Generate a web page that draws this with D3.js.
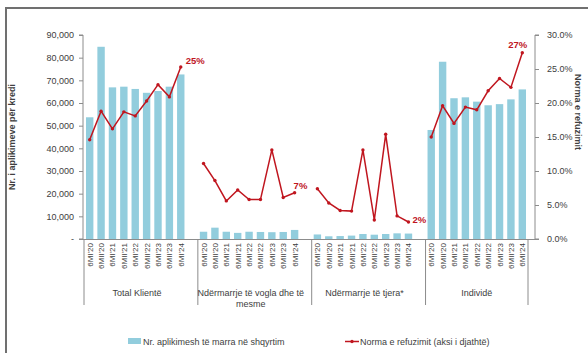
<!DOCTYPE html>
<html><head><meta charset="utf-8">
<script src="https://cdn.jsdelivr.net/npm/d3@7"></script>
<style>
html,body{margin:0;padding:0;background:#fff;}
svg{display:block;font-family:"Liberation Sans",Arial,sans-serif;}
</style></head>
<body>
<svg id="chart" width="588" height="353"></svg>
<script>
const groups = ["Total Klientë", "Ndërmarrje të vogla dhe të mesme", "Ndërmarrje të tjera*", "Individë"];
const groupLines = [["Total Klientë"], ["Ndërmarrje të vogla dhe të", "mesme"], ["Ndërmarrje të tjera*"], ["Individë"]];
const periods = ["6MI'20","6MII'20","6MI'21","6MII'21","6MI'22","6MII'22","6MI'23","6MII'23","6MI'24"];
const applications = [
  [53700, 84800, 66900, 67200, 66200, 64500, 65300, 67200, 72600],
  [3200, 5000, 3200, 2700, 3200, 3100, 3000, 3100, 4000],
  [2000, 1200, 1300, 1500, 2200, 1900, 2200, 2500, 2400],
  [48100, 78200, 62100, 62500, 60600, 59000, 59500, 61600, 66000]
];
const refusalRate = [
  [14.6, 18.8, 16.2, 18.7, 18.1, 20.3, 22.7, 20.9, 25.3],
  [11.1, 8.6, 5.6, 7.2, 5.8, 5.8, 13.1, 6.1, 6.8],
  [7.4, 5.3, 4.2, 4.1, 13.1, 2.8, 15.4, 3.4, 2.5],
  [15.0, 19.6, 17.0, 19.4, 19.0, 21.8, 23.6, 22.3, 27.4]
];
const endLabels = ["25%", "7%", "2%", "27%"];
const leftTicks = [0, 10000, 20000, 30000, 40000, 50000, 60000, 70000, 80000, 90000];
const rightTicks = [0, 5, 10, 15, 20, 25, 30];

const svg = d3.select("#chart");
const textCol = "#404040", axisCol = "#8c8c8c";
const barCol = "#92cddd", lineCol = "#c0161f";
const labelOffsets = [[5, -3], [-1, -4], [4, 1], [-14, -5]];

// frame (left and top edges visible, continues past the picture)
svg.append("rect").attr("x", 6).attr("y", 8).attr("width", 620).attr("height", 360)
  .attr("fill", "none").attr("stroke", "#707070").attr("stroke-width", 2);

const yTop = 35, yBot = 239;
const xL = 83, xR = 535;
const yL = d3.scaleLinear().domain([0, 90000]).range([yBot, yTop]);
const yR = d3.scaleLinear().domain([0, 30]).range([yBot, yTop]);

// slots
const slots = [];
groups.forEach((g, gi) => {
  periods.forEach((p, pi) => slots.push(gi + "|" + pi));
  if (gi < groups.length - 1) slots.push(gi + "|blank");
});
const x = d3.scaleBand().domain(slots).range([84, 528]).paddingInner(0.35).paddingOuter(0.175);
const step = x.step();
const slotStart = k => x(k) - step * 0.175;

// bars
groups.forEach((g, gi) => {
  svg.append("g").selectAll("rect").data(applications[gi]).join("rect")
    .attr("x", (d, i) => x(gi + "|" + i))
    .attr("width", x.bandwidth())
    .attr("y", d => yL(d))
    .attr("height", d => yBot - yL(d))
    .attr("fill", barCol);
});

// left axis
const leftAxis = d3.axisLeft(yL).tickValues(leftTicks).tickSize(4).tickPadding(5)
  .tickFormat(d => d === 0 ? "-" : d3.format(",")(d));
const gl = svg.append("g").attr("transform", `translate(${xL},0)`).call(leftAxis);
gl.select(".domain").attr("stroke", axisCol).attr("d", `M-4,${yTop}H0V${yBot}H-4`);
gl.selectAll(".tick line").attr("stroke", axisCol);
gl.selectAll("text").attr("fill", textCol).attr("font-size", 9);

// right axis
const rightAxis = d3.axisRight(yR).tickValues(rightTicks).tickSize(4).tickPadding(8)
  .tickFormat(d => d.toFixed(1) + "%");
const gr = svg.append("g").attr("transform", `translate(${xR},0)`).call(rightAxis);
gr.select(".domain").attr("stroke", axisCol).attr("d", `M4,${yTop}H0V${yBot}H4`);
gr.selectAll(".tick line").attr("stroke", axisCol);
gr.selectAll("text").attr("fill", textCol).attr("font-size", 9);

// category axis line
svg.append("line").attr("x1", xL).attr("x2", xR).attr("y1", yBot + 0.5).attr("y2", yBot + 0.5)
  .attr("stroke", axisCol);

// period labels
groups.forEach((g, gi) => {
  svg.append("g").selectAll("text").data(periods).join("text")
    .attr("transform", (d, i) => `translate(${x(gi + "|" + i) + x.bandwidth() / 2 + 3},${yBot + 4}) rotate(-90)`)
    .attr("text-anchor", "end")
    .attr("font-size", 8)
    .attr("fill", textCol)
    .text(d => d);
});

// group separators and labels
const boundaries = [84, slotStart("1|0"), slotStart("2|0"), slotStart("3|0"), 528];
boundaries.forEach(b => {
  svg.append("line").attr("x1", b).attr("x2", b).attr("y1", yBot).attr("y2", 305)
    .attr("stroke", axisCol);
});
groupLines.forEach((lines, gi) => {
  const cx = (boundaries[gi] + boundaries[gi + 1]) / 2 - (gi < 3 ? 4 : 0);
  lines.forEach((ln, li) => {
    svg.append("text").attr("x", cx).attr("y", 296 + li * 11)
      .attr("text-anchor", "middle").attr("font-size", 9).attr("fill", textCol).text(ln);
  });
});

// lines
const line = d3.line().x(d => d[0]).y(d => d[1]);
groups.forEach((g, gi) => {
  const pts = refusalRate[gi].map((v, i) => [x(gi + "|" + i) + x.bandwidth() / 2, yR(v)]);
  svg.append("path").attr("d", line(pts)).attr("fill", "none")
    .attr("stroke", lineCol).attr("stroke-width", 1.5);
  svg.append("g").selectAll("circle").data(pts).join("circle")
    .attr("cx", d => d[0]).attr("cy", d => d[1]).attr("r", 1.7).attr("fill", lineCol);
  const last = pts[pts.length - 1];
  svg.append("text").attr("x", last[0] + labelOffsets[gi][0]).attr("y", last[1] + labelOffsets[gi][1])
    .attr("font-size", 9.5).attr("font-weight", "bold").attr("fill", lineCol)
    .text(endLabels[gi]);
});

// axis titles
svg.append("text").attr("transform", "translate(15,137) rotate(-90)")
  .attr("text-anchor", "middle").attr("font-size", 9).attr("font-weight", "bold")
  .attr("fill", textCol).text("Nr. i aplikimeve për kredi");
svg.append("text").attr("transform", "translate(575,112) rotate(90)")
  .attr("text-anchor", "middle").attr("font-size", 9).attr("font-weight", "bold")
  .attr("fill", textCol).text("Norma e refuzimit");

// legend
svg.append("rect").attr("x", 128).attr("y", 338).attr("width", 13).attr("height", 6).attr("fill", barCol);
svg.append("text").attr("x", 143).attr("y", 345).attr("font-size", 9).attr("fill", textCol)
  .text("Nr. aplikimesh të marra në shqyrtim");
svg.append("line").attr("x1", 345).attr("x2", 359).attr("y1", 341.5).attr("y2", 341.5)
  .attr("stroke", lineCol).attr("stroke-width", 1.5);
svg.append("circle").attr("cx", 352).attr("cy", 341.5).attr("r", 1.7).attr("fill", lineCol);
svg.append("text").attr("x", 360).attr("y", 345).attr("font-size", 9).attr("fill", textCol)
  .text("Norma e refuzimit (aksi i djathtë)");
</script>
</body></html>
